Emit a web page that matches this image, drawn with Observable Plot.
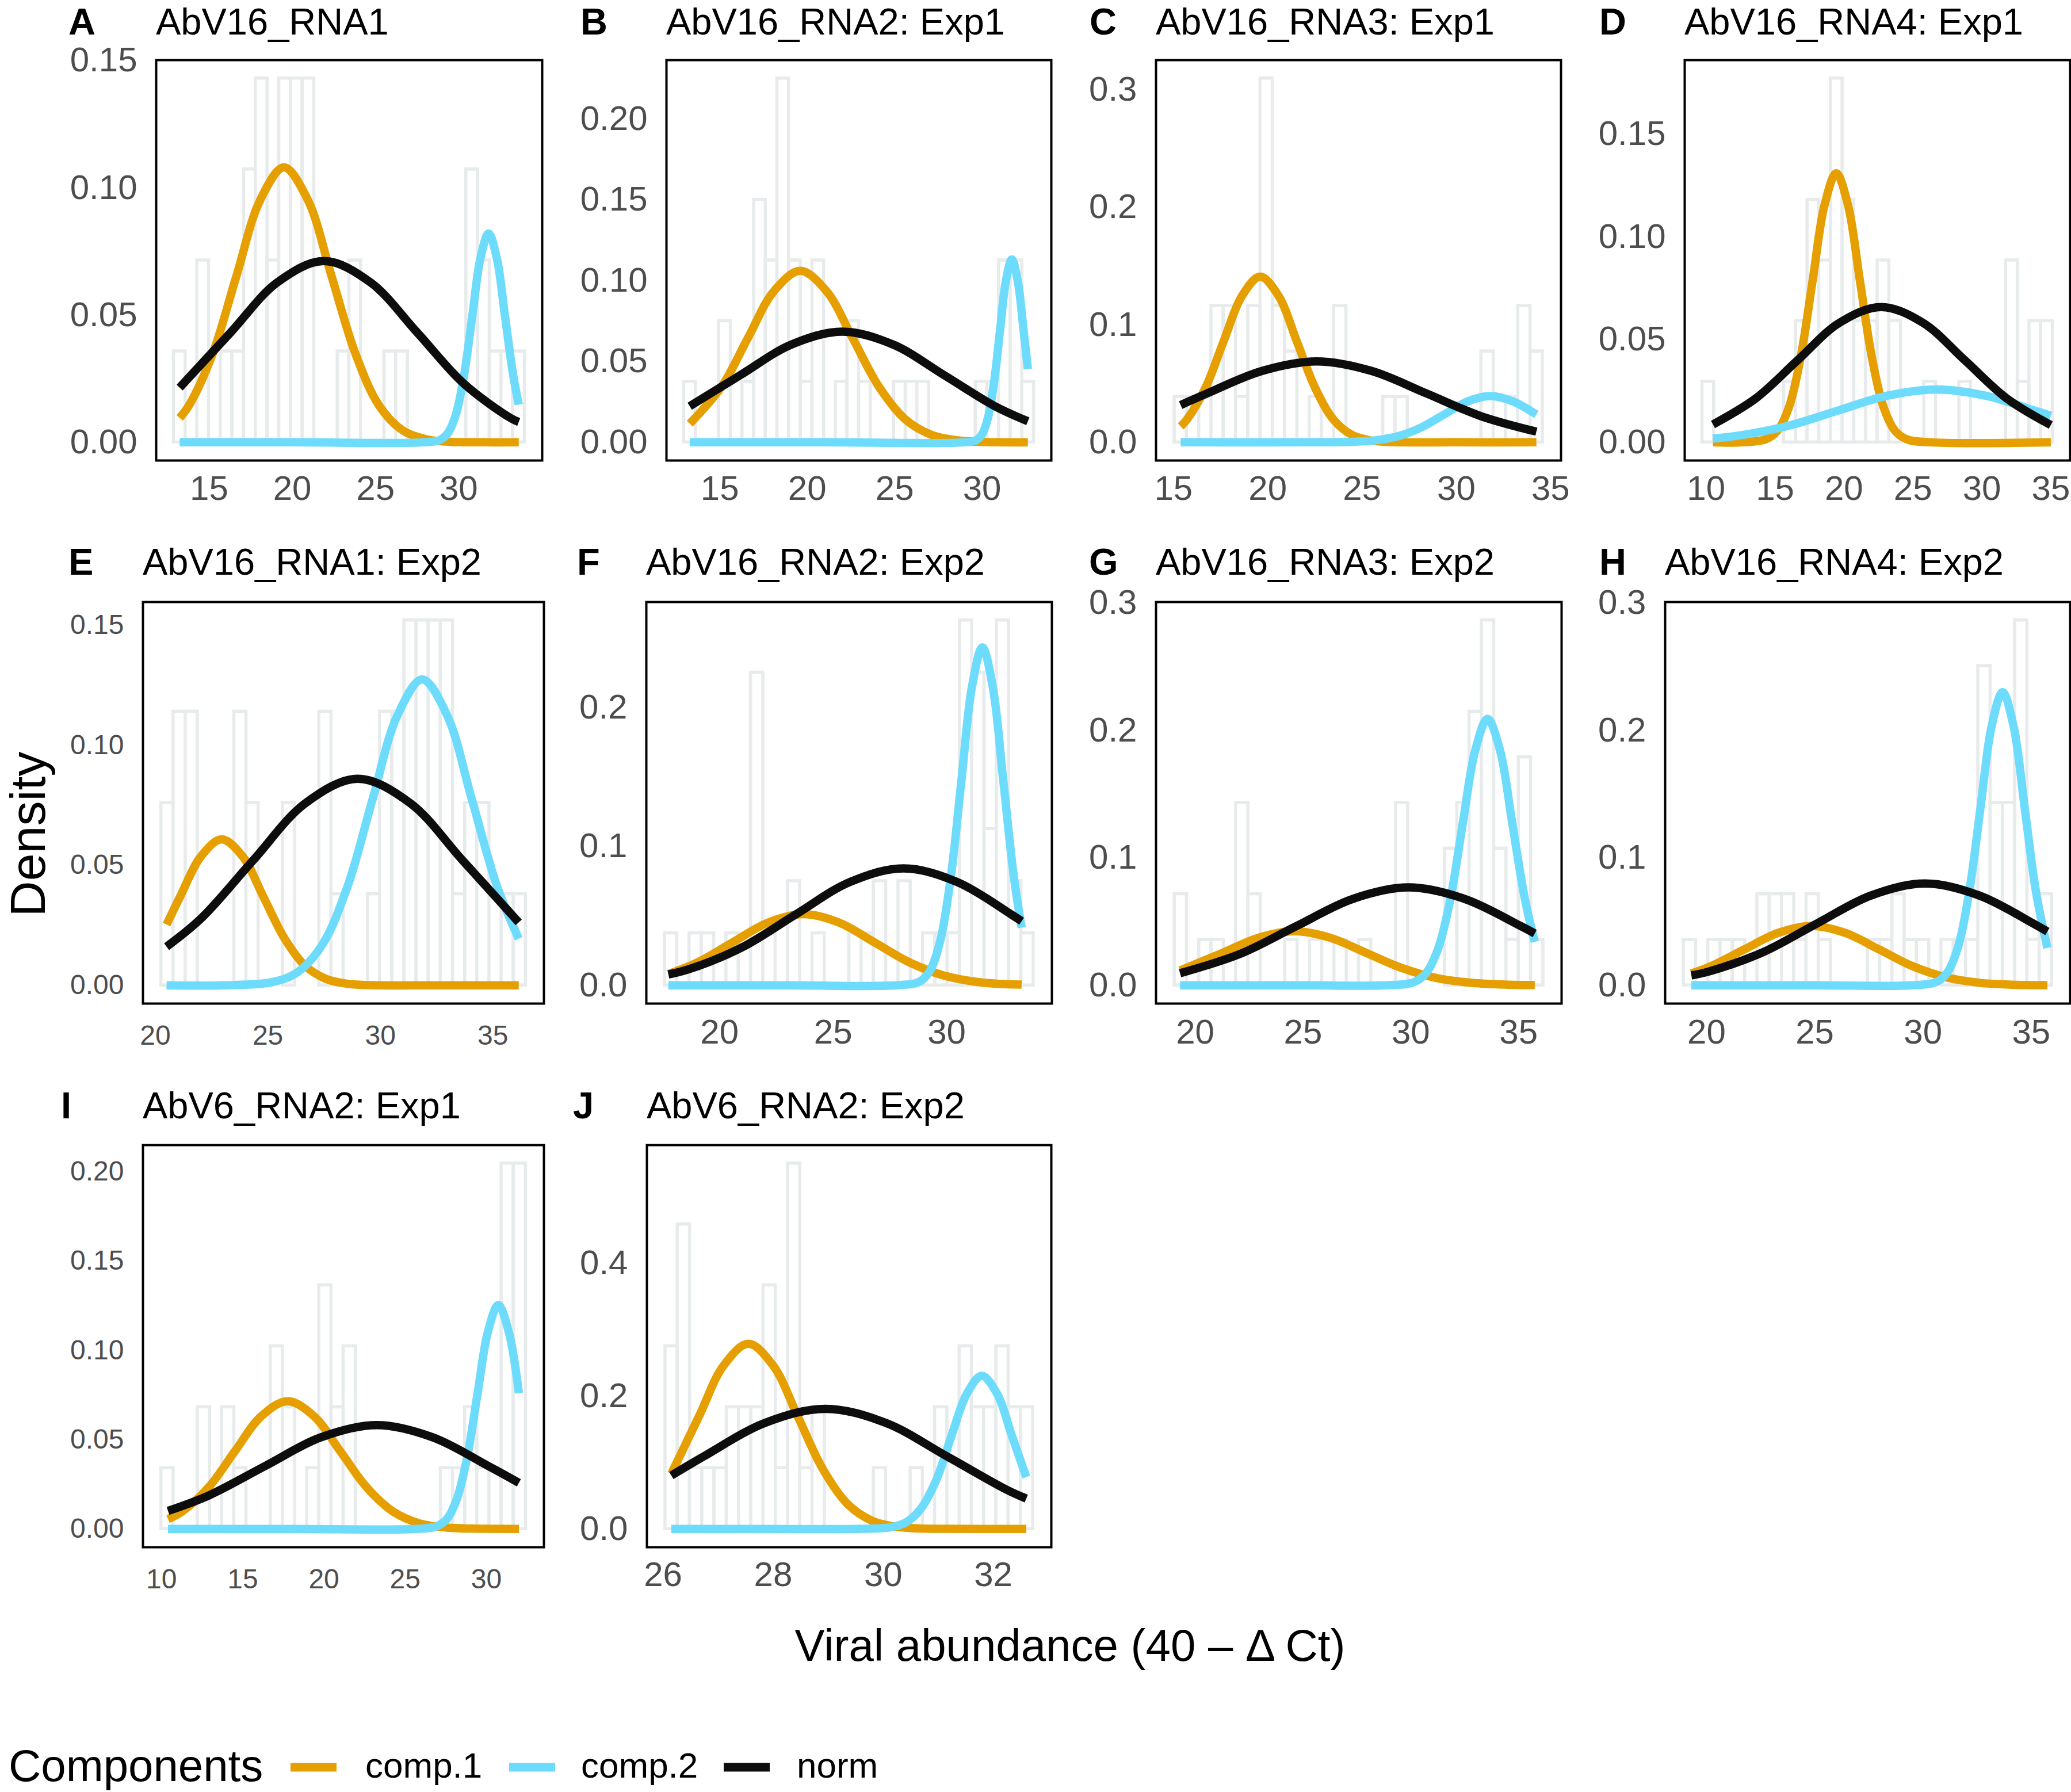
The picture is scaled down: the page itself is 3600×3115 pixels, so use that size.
<!DOCTYPE html>
<html><head><meta charset="utf-8">
<script src="https://cdn.jsdelivr.net/npm/d3@7"></script>
<script src="https://cdn.jsdelivr.net/npm/@observablehq/plot@0.6"></script>
<style>
html,body{margin:0;padding:0;background:#fff;}
#fig{position:relative;width:3600px;height:3115px;overflow:hidden;background:#fff;}
.panel{position:absolute;}
.panel svg{max-width:none !important;display:block;}
#overlay{position:absolute;left:0;top:0;}
</style></head><body><div id="fig"></div>
<script>
// ---------------- data ----------------
const componentNames = ["comp.1", "comp.2", "norm"];
const panelLetters = ["A","B","C","D","E","F","G","H","I","J"];
const panelTitles = ["AbV16_RNA1","AbV16_RNA2: Exp1","AbV16_RNA3: Exp1","AbV16_RNA4: Exp1",
  "AbV16_RNA1: Exp2","AbV16_RNA2: Exp2","AbV16_RNA3: Exp2","AbV16_RNA4: Exp2",
  "AbV6_RNA2: Exp1","AbV6_RNA2: Exp2"];

// histogram bins: first bin edge, bin width, counts, density per count
const binStart = [12.875, 12.95, 15.05, 9.72, 20.26, 17.59, 19.04, 18.94, 9.98, 26.04];
const binWidth = [0.703, 0.667, 0.651, 0.847, 0.54, 0.541, 0.57, 0.567, 0.748, 0.2227];
const densityPerCount = [0.03575, 0.0375, 0.0387, 0.0295, 0.038, 0.0375, 0.0358, 0.0358, 0.0341, 0.0918];
const countsA = [1,0,2,1,1,1,3,4,2,4,4,4,0,0,1,2,0,0,1,1,0,0,0,0,0,3,2,1,1,1];
const countsB = [1,0,0,2,0,1,4,3,6,3,1,3,0,1,2,1,0,0,1,1,1,0,0,0,0,1,1,3,3,1];
const countsC = [1,1,0,3,3,1,3,8,3,2,0,1,0,3,0,0,0,1,1,0,0,0,0,0,0,2,1,1,3,2];
const countsD = [1,0,0,0,0,0,0,1,2,4,3,6,4,2,2,3,2,0,0,1,0,0,1,0,0,0,3,1,2,2];
const countsE = [2,3,3,0,0,0,3,2,0,0,2,0,0,3,1,0,0,1,3,3,4,4,4,4,1,2,2,0,1,1];
const countsF = [1,0,1,1,0,1,0,6,1,0,2,0,1,0,0,1,1,2,0,2,0,1,1,1,7,6,3,7,2,1];
const countsG = [2,0,1,1,0,4,2,0,0,1,0,1,0,1,0,1,0,0,4,0,0,0,3,4,6,8,3,1,5,1];
const countsH = [1,0,1,1,1,0,2,2,2,1,2,1,0,0,0,1,1,2,1,1,0,1,1,1,7,4,4,8,1,2];
const countsI = [1,0,0,2,0,2,1,0,0,3,2,0,1,4,2,3,0,0,0,0,0,0,0,1,1,2,1,1,6,6];
const countsJ = [3,5,1,1,1,2,2,2,4,1,6,1,2,0,0,0,0,1,0,0,1,0,2,0,3,2,2,3,2,2];

// fitted curves, [x, density] points
const comp1A = [[13.23,0.0096],[13.8,0.0146],[15.23,0.0351],[16.65,0.0655],[18.08,0.0953],[19.5,0.108],[20.93,0.0953],[22.35,0.0655],[23.78,0.0351],[25.2,0.0146],[26.63,0.0047],[28.05,0.0012],[29.48,0.0002],[31.5,0],[33.61,0]];
const comp2A = [[13.23,0],[20,0],[27.88,0],[28.86,0.0009],[29.35,0.0036],[29.84,0.0111],[30.33,0.0266],[30.82,0.0497],[31.31,0.0724],[31.8,0.082],[32.29,0.0724],[32.78,0.0497],[33.27,0.0266],[33.61,0.0148]];
const normA  = [[13.23,0.0215],[16.3,0.0432],[19.1,0.0628],[21.9,0.0712],[24.7,0.0628],[27.5,0.0432],[30.3,0.0231],[33.1,0.0096],[33.61,0.008]];

const comp1B = [[13.28,0.0115],[15.1,0.0344],[16.6,0.0643],[18.1,0.0935],[19.6,0.106],[21.1,0.0935],[22.6,0.0643],[24.1,0.0344],[25.6,0.0143],[27.1,0.0047],[28.6,0.0012],[30.1,0.0002],[32.62,0]];
const comp2B = [[13.28,0],[21,0],[28.98,0],[29.66,0.0013],[30.0,0.005],[30.34,0.0153],[30.68,0.0367],[31.02,0.0685],[31.36,0.0997],[31.7,0.113],[32.04,0.0997],[32.38,0.0685],[32.62,0.0453]];
const normB  = [[13.28,0.0223],[16.17,0.0415],[19.09,0.0604],[22.0,0.0684],[24.92,0.0604],[27.83,0.0415],[30.75,0.0222],[32.62,0.013]];

const comp1C = [[15.38,0.0136],[15.7,0.0191],[16.68,0.0458],[17.65,0.0855],[18.63,0.1244],[19.6,0.141],[20.58,0.1244],[21.55,0.0855],[22.53,0.0458],[23.5,0.0191],[24.48,0.0062],[25.45,0.0016],[26.43,0.0003],[30,0],[34.25,0]];
const comp2C = [[15.38,0],[22.08,0],[24.51,0.0004],[25.73,0.0017],[26.94,0.0053],[28.16,0.0128],[29.37,0.0238],[30.59,0.0347],[31.8,0.0393],[33.02,0.0347],[34.25,0.0236]];
const normC  = [[15.38,0.0317],[16.8,0.0417],[19.7,0.0607],[22.6,0.0688],[25.5,0.0607],[28.4,0.0417],[31.3,0.0223],[34.25,0.0091]];

const comp1D = [[10.5,0],[12.64,0],[14.34,0.0015],[15.19,0.0057],[16.04,0.0177],[16.89,0.0425],[17.74,0.0793],[18.59,0.1154],[19.44,0.1308],[20.29,0.1154],[21.14,0.0793],[21.99,0.0425],[22.84,0.0177],[23.69,0.0057],[24.54,0.0015],[26.24,0],[35.0,0]];
const comp2D = [[10.5,0.0018],[12.58,0.0035],[16.11,0.0083],[19.64,0.0156],[23.17,0.0227],[26.7,0.0257],[30.23,0.0227],[33.76,0.0156],[35.0,0.0129]];
const normD  = [[10.5,0.0087],[13.61,0.0214],[16.64,0.0399],[19.67,0.0581],[22.7,0.0658],[25.73,0.0581],[28.76,0.0399],[31.79,0.0214],[35.0,0.0084]];

const comp1E = [[20.5,0.0253],[21.1,0.0369],[22.03,0.0537],[22.95,0.0608],[23.88,0.0537],[24.8,0.0369],[25.73,0.0197],[26.65,0.0082],[27.58,0.0027],[28.5,0.0007],[29.43,0.0001],[32.5,0],[36.15,0]];
const comp2E = [[20.5,0],[23.02,0],[25.23,0.0014],[26.34,0.0056],[27.44,0.0172],[28.55,0.0414],[29.65,0.0773],[30.76,0.1124],[31.86,0.1274],[32.97,0.1124],[34.07,0.0773],[35.18,0.0414],[36.15,0.0194]];
const normE  = [[20.5,0.0161],[22.04,0.0279],[24.36,0.0522],[26.68,0.0759],[29.0,0.086],[31.32,0.0759],[33.64,0.0522],[36.15,0.0262]];

const comp1F = [[17.75,0.0081],[19.05,0.0166],[20.6,0.0311],[22.15,0.0452],[23.7,0.0512],[25.25,0.0452],[26.8,0.0311],[28.35,0.0166],[29.9,0.0069],[31.45,0.0022],[33.3,0.0005]];
const comp2F = [[17.75,0],[23,0],[27.89,0.0001],[28.81,0.0027],[29.27,0.0107],[29.73,0.0329],[30.19,0.0789],[30.65,0.1474],[31.11,0.2144],[31.57,0.243],[32.03,0.2144],[32.49,0.1474],[32.95,0.0789],[33.3,0.0415]];
const normF  = [[17.75,0.0078],[18.62,0.0114],[20.99,0.0273],[23.36,0.051],[25.73,0.0742],[28.1,0.0841],[30.47,0.0742],[32.84,0.051],[33.3,0.0461]];

const comp1G = [[19.3,0.0117],[21.3,0.0257],[22.95,0.0374],[24.6,0.0424],[26.25,0.0374],[27.9,0.0257],[29.55,0.0138],[31.2,0.0057],[32.85,0.0019],[34.5,0.0005],[35.75,0.0002]];
const comp2G = [[19.3,0],[25,0],[28.96,0.0001],[30.11,0.0023],[30.69,0.0092],[31.26,0.0283],[31.84,0.0679],[32.41,0.1268],[32.99,0.1844],[33.56,0.209],[34.14,0.1844],[34.71,0.1268],[35.29,0.0679],[35.75,0.0341]];
const normG  = [[19.3,0.0095],[22.12,0.0249],[24.71,0.0466],[27.31,0.0678],[29.9,0.0768],[32.5,0.0678],[35.09,0.0466],[35.75,0.0407]];

const comp1H = [[19.3,0.0093],[20.21,0.0151],[21.76,0.0283],[23.31,0.0411],[24.86,0.0466],[26.41,0.0411],[27.96,0.0283],[29.51,0.0151],[31.06,0.0063],[32.61,0.002],[34.16,0.0005],[35.75,0.0001]];
const comp2H = [[19.3,0],[25,0],[29.6,0.0001],[30.62,0.0026],[31.13,0.0101],[31.64,0.0311],[32.15,0.0747],[32.66,0.1395],[33.17,0.203],[33.68,0.23],[34.19,0.203],[34.7,0.1395],[35.21,0.0747],[35.75,0.0293]];
const normH  = [[19.3,0.0078],[20.1,0.0108],[22.6,0.0259],[25.1,0.0485],[27.6,0.0705],[30.1,0.0799],[32.6,0.0705],[35.1,0.0485],[35.75,0.0422]];

const comp1I = [[10.4,0.0055],[11.26,0.0097],[12.89,0.0232],[14.51,0.0434],[16.14,0.0631],[17.76,0.0715],[19.39,0.0631],[21.01,0.0434],[22.64,0.0232],[24.26,0.0097],[25.89,0.0031],[27.51,0.0008],[29.14,0.0002],[32.0,0]];
const comp2I = [[10.4,0],[18,0],[25.65,0],[26.92,0.0014],[27.56,0.0055],[28.19,0.017],[28.83,0.0407],[29.46,0.076],[30.1,0.1106],[30.73,0.1253],[31.37,0.1106],[32.0,0.076]];
const normI  = [[10.4,0.0101],[12.95,0.0189],[16.38,0.0352],[19.82,0.0513],[23.25,0.0581],[26.69,0.0513],[30.12,0.0352],[32.0,0.0258]];

const comp1J = [[26.15,0.0832],[26.65,0.1692],[27.1,0.2462],[27.55,0.279],[28.0,0.2462],[28.45,0.1692],[28.9,0.0906],[29.35,0.0377],[29.8,0.0122],[30.25,0.0031],[30.7,0.0006],[31.15,0.0001],[32.6,0]];
const comp2J = [[26.15,0],[28,0],[29.59,0.0001],[30.14,0.0026],[30.42,0.0101],[30.69,0.0312],[30.97,0.0749],[31.24,0.14],[31.52,0.2037],[31.79,0.2308],[32.07,0.2037],[32.34,0.14],[32.6,0.078]];
const normJ  = [[26.15,0.0805],[26.75,0.1098],[27.85,0.1597],[28.95,0.181],[30.05,0.1597],[31.15,0.1098],[32.25,0.0588],[32.6,0.0457]];

// tick values
const xTicksA = [15,20,25,30], yTicksA = [0,0.05,0.10,0.15];
const xTicksB = [15,20,25,30], yTicksB = [0,0.05,0.10,0.15,0.20];
const xTicksC = [15,20,25,30,35], yTicksC = [0,0.1,0.2,0.3];
const xTicksD = [10,15,20,25,30,35], yTicksD = [0,0.05,0.10,0.15];
const xTicksE = [20,25,30,35], yTicksE = [0,0.05,0.10,0.15];
const xTicksF = [20,25,30], yTicksF = [0,0.1,0.2];
const xTicksG = [20,25,30,35], yTicksG = [0,0.1,0.2,0.3];
const xTicksH = [20,25,30,35], yTicksH = [0,0.1,0.2,0.3];
const xTicksI = [10,15,20,25,30], yTicksI = [0,0.05,0.10,0.15,0.20];
const xTicksJ = [26,28,30,32], yTicksJ = [0,0.2,0.4];

const xAxisTitle = "Viral abundance (40 \u2013 \u0394 Ct)";
const yAxisTitle = "Density";
const legendTitle = "Components";

// ---------------- layout & style (not data) ----------------
const FONT = '"Liberation Sans", Arial, Helvetica, sans-serif';
const colorOf = {"comp.1": "#E69F00", "comp.2": "#6DDBFC", "norm": "#0D0D0D"};
const counts = [countsA,countsB,countsC,countsD,countsE,countsF,countsG,countsH,countsI,countsJ];
const curves = [[comp1A,comp2A,normA],[comp1B,comp2B,normB],[comp1C,comp2C,normC],[comp1D,comp2D,normD],
  [comp1E,comp2E,normE],[comp1F,comp2F,normF],[comp1G,comp2G,normG],[comp1H,comp2H,normH],
  [comp1I,comp2I,normI],[comp1J,comp2J,normJ]];
const xTicks = [xTicksA,xTicksB,xTicksC,xTicksD,xTicksE,xTicksF,xTicksG,xTicksH,xTicksI,xTicksJ];
const yTicks = [yTicksA,yTicksB,yTicksC,yTicksD,yTicksE,yTicksF,yTicksG,yTicksH,yTicksI,yTicksJ];
const yFormats = [".2f",".2f",".1f",".2f",".2f",".1f",".1f",".1f",".2f",".1f"];
// frame rectangles [left, top, right, bottom] in page pixels
const frames = [[271,104,942,800],[1158,104,1827,800],[2009,104,2713,800],[2928,104,3598,800],
  [248,1046,945,1744],[1123,1046,1828,1744],[2009,1046,2714,1744],[2894,1046,3598,1744],
  [248,1990,945,2689],[1124,1990,1827,2689]];
const tickFont = [60,60,60,60,48,60,60,60,48,60];
const xPad = [26,26,26,26,37,27,27,27,37,25];
const letterX = [119,1009,1894,2780,119,1003,1893,2780,106,996];
const titleBase = [60,60,60,60,999,999,999,999,1944,1944];

const fig = document.getElementById("fig");
const ML = 170, MR = 4, MT = 4, MB = 100;

for (let i = 0; i < 10; i++) {
  const hist = counts[i].map((c, k) => ({
    x1: binStart[i] + k * binWidth[i],
    x2: binStart[i] + (k + 1) * binWidth[i],
    y1: 0,
    y2: c * densityPerCount[i]
  }));
  const lo = binStart[i], hi = binStart[i] + counts[i].length * binWidth[i], r = hi - lo;
  const ymax = d3.max(hist, d => d.y2);
  const [fl, ft, fr, fb] = frames[i];
  const fw = fr - fl, fh = fb - ft;
  const lineMarks = componentNames.map((name, j) =>
    Plot.line(curves[i][j], {x: d => d[0], y: d => d[1], stroke: colorOf[name], strokeWidth: 14.5,
      curve: "catmull-rom", strokeLinecap: "butt", strokeLinejoin: "round"}));
  const chart = Plot.plot({
    width: ML + fw + MR, height: MT + fh + MB,
    marginLeft: ML, marginRight: MR, marginTop: MT, marginBottom: MB,
    style: {fontFamily: FONT, fontSize: tickFont[i] + "px", color: "#4D4D4D", background: "transparent", overflow: "visible"},
    x: {domain: [lo - 0.05 * r, hi + 0.05 * r], ticks: xTicks[i], tickSize: 0, tickPadding: xPad[i], tickFormat: d3.format("d"), label: null},
    y: {domain: [-0.05 * ymax, 1.05 * ymax], ticks: yTicks[i], tickSize: 0, tickPadding: 33, tickFormat: d3.format(yFormats[i]), label: null},
    marks: [
      Plot.rect(hist, {x1: "x1", x2: "x2", y1: "y1", y2: "y2", fill: "white", stroke: "#E7EBEB", strokeWidth: 5.5}),
      ...lineMarks,
      Plot.frame({stroke: "#000", strokeWidth: 4})
    ]
  });
  const wrap = document.createElement("div");
  wrap.className = "panel";
  wrap.style.left = (fl - ML) + "px";
  wrap.style.top = (ft - MT) + "px";
  wrap.appendChild(chart);
  fig.appendChild(wrap);
}

// ---------------- titles, axis titles, legend ----------------
const NS = "http://www.w3.org/2000/svg";
const ov = document.createElementNS(NS, "svg");
ov.setAttribute("id", "overlay");
ov.setAttribute("width", 3600); ov.setAttribute("height", 3115);
ov.style.fontFamily = FONT;
function txt(x, y, s, attrs) {
  const t = document.createElementNS(NS, "text");
  t.setAttribute("x", x); t.setAttribute("y", y);
  for (const k in attrs) t.setAttribute(k, attrs[k]);
  t.textContent = s; ov.appendChild(t); return t;
}
for (let i = 0; i < 10; i++) {
  txt(letterX[i], titleBase[i], panelLetters[i], {"font-size": 65, "font-weight": "bold", fill: "#000"});
  txt(frames[i][0], titleBase[i], panelTitles[i], {"font-size": 65, fill: "#000"});
}
txt(1860, 2887, xAxisTitle, {"font-size": 78, fill: "#000", "text-anchor": "middle"});
txt(0, 0, yAxisTitle, {"font-size": 86, fill: "#000", "text-anchor": "middle", transform: "translate(78,1450) rotate(-90)"});
txt(15, 3096, legendTitle, {"font-size": 78, fill: "#000"});
const keyX = [505, 885, 1258], labelX = [635, 1010, 1385];
componentNames.forEach((name, j) => {
  const l = document.createElementNS(NS, "line");
  l.setAttribute("x1", keyX[j]); l.setAttribute("x2", keyX[j] + 80);
  l.setAttribute("y1", 3072); l.setAttribute("y2", 3072);
  l.setAttribute("stroke", colorOf[name]); l.setAttribute("stroke-width", 15);
  ov.appendChild(l);
  txt(labelX[j], 3090, name, {"font-size": 62, fill: "#000"});
});
fig.appendChild(ov);
</script></body></html>
